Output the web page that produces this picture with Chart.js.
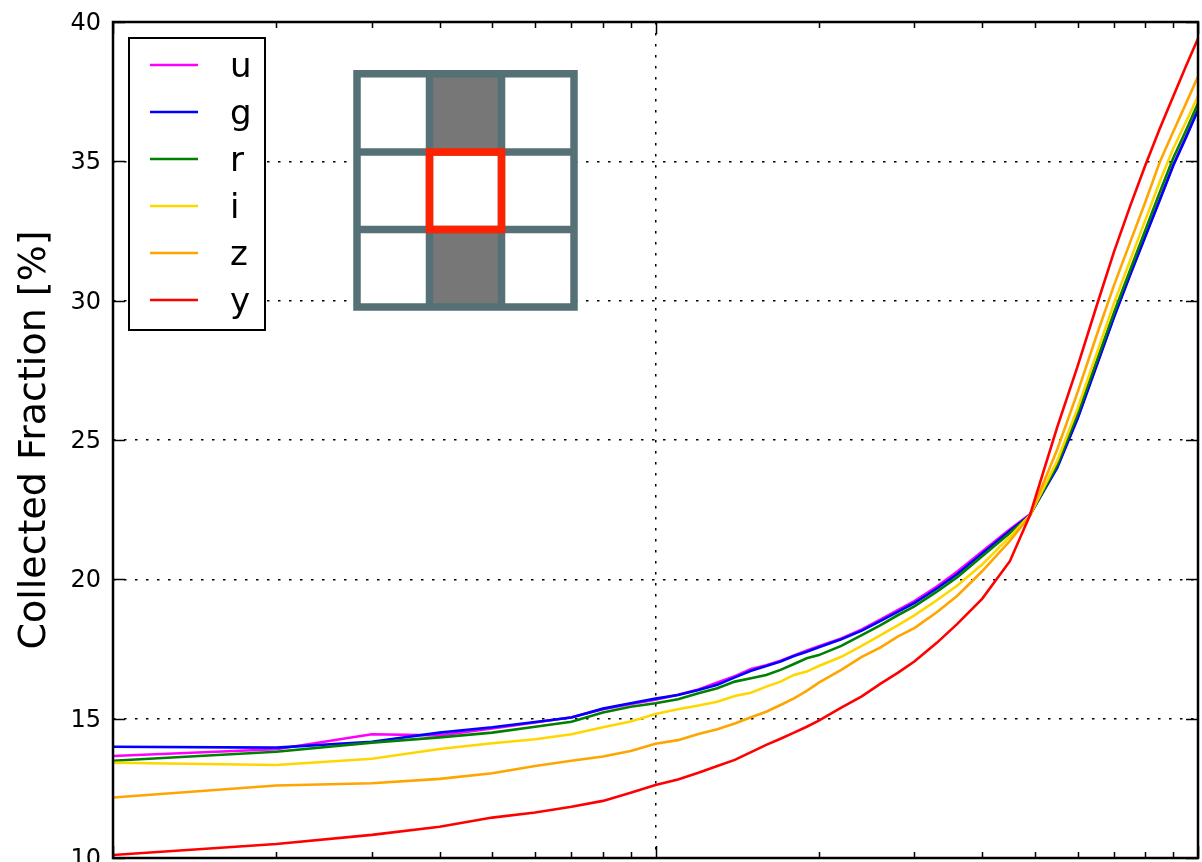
<!DOCTYPE html>
<html>
<head>
<meta charset="utf-8">
<script src="https://cdn.jsdelivr.net/npm/chart.js@4/dist/chart.umd.min.js"></script>
<style>
  html, body { margin: 0; padding: 0; background: #ffffff; }
  canvas { display: block; }
</style>
</head>
<body>
<canvas id="chart" width="1202" height="862"></canvas>
<script>
// Sampling positions along the (logarithmic) horizontal axis
const xValues = [1, 2, 3, 4, 5, 6, 7, 8, 9, 10, 11, 12, 13, 14, 15, 16, 17, 18, 19, 20,
                 22, 24, 26, 28, 30, 33, 36, 40, 45, 49, 55, 60, 65, 70, 75, 80, 85, 90, 95, 100];

// Collected fraction [%] per filter band
const uFrac = [13.66, 13.90, 14.44, 14.40, 14.65, 14.86, 15.05, 15.34, 15.53, 15.68, 15.86, 16.05, 16.30, 16.52, 16.78, 16.92, 17.08, 17.27, 17.45, 17.60,
               17.88, 18.20, 18.56, 18.90, 19.22, 19.74, 20.28, 21.00, 21.80, 22.33, 24.03, 25.80, 27.68, 29.43, 30.96, 32.34, 33.63, 34.87, 35.88, 36.87];
const gFrac = [13.99, 13.96, 14.17, 14.50, 14.69, 14.88, 15.04, 15.36, 15.55, 15.72, 15.85, 16.03, 16.22, 16.48, 16.72, 16.89, 17.05, 17.25, 17.40, 17.56,
               17.85, 18.16, 18.51, 18.84, 19.15, 19.67, 20.19, 20.93, 21.74, 22.31, 24.00, 25.77, 27.65, 29.40, 30.93, 32.31, 33.60, 34.84, 35.85, 36.84];
const rFrac = [13.49, 13.81, 14.14, 14.33, 14.50, 14.71, 14.89, 15.22, 15.43, 15.55, 15.70, 15.91, 16.09, 16.33, 16.45, 16.57, 16.75, 16.96, 17.17, 17.28,
               17.61, 18.00, 18.36, 18.72, 19.03, 19.56, 20.08, 20.83, 21.66, 22.29, 24.10, 25.94, 27.82, 29.57, 31.11, 32.54, 33.88, 35.11, 36.10, 37.08];
const iFrac = [13.42, 13.34, 13.56, 13.91, 14.12, 14.26, 14.44, 14.69, 14.90, 15.17, 15.34, 15.47, 15.61, 15.81, 15.93, 16.15, 16.33, 16.57, 16.69, 16.89,
               17.22, 17.61, 18.00, 18.36, 18.71, 19.25, 19.78, 20.53, 21.53, 22.30, 24.25, 26.14, 28.09, 29.90, 31.45, 32.90, 34.27, 35.45, 36.41, 37.34];
const zFrac = [12.17, 12.60, 12.68, 12.84, 13.04, 13.30, 13.49, 13.64, 13.84, 14.10, 14.23, 14.45, 14.62, 14.83, 15.05, 15.25, 15.49, 15.73, 16.00, 16.29,
               16.75, 17.22, 17.56, 17.95, 18.25, 18.82, 19.41, 20.29, 21.38, 22.28, 24.65, 26.72, 28.74, 30.55, 32.10, 33.55, 34.97, 36.06, 37.07, 38.04];
const yFrac = [10.11, 10.50, 10.83, 11.12, 11.45, 11.63, 11.84, 12.05, 12.34, 12.62, 12.82, 13.06, 13.30, 13.52, 13.80, 14.06, 14.28, 14.50, 14.71, 14.93,
               15.40, 15.80, 16.26, 16.65, 17.05, 17.72, 18.40, 19.30, 20.65, 22.30, 25.45, 27.65, 29.80, 31.75, 33.40, 34.87, 36.17, 37.33, 38.41, 39.41];

const bandNames  = ['u', 'g', 'r', 'i', 'z', 'y'];
const bandSeries = [uFrac, gFrac, rFrac, iFrac, zFrac, yFrac];
const bandColors = ['#ff00ff', '#0000ff', '#008000', '#ffd700', '#ffa500', '#ff0000'];

const yTickValues = [10, 15, 20, 25, 30, 35, 40];
const yTickLabels = ['10', '15', '20', '25', '30', '35', '40'];
const yTitle = 'Collected Fraction [%]';

const FONT = "'DejaVu Sans', 'Liberation Sans', sans-serif";

const datasets = bandNames.map((name, k) => ({
  label: name,
  data: xValues.map((x, j) => ({ x: x, y: bandSeries[k][j] })),
  borderColor: bandColors[k],
  backgroundColor: bandColors[k],
  borderWidth: 2.6,
  pointRadius: 0,
  tension: 0,
  fill: false,
  // later bands are painted over earlier ones
  order: bandNames.length - k
}));

const isDecade = v => Math.abs(Math.log10(v) - Math.round(Math.log10(v))) < 1e-9;

// Frame, inward tick marks, tick labels, boxed legend and the pixel-mask sketch
const decorations = {
  id: 'decorations',
  afterDraw(chart) {
    const ctx = chart.ctx;
    const a = chart.chartArea;
    const xs = chart.scales.x;
    const ys = chart.scales.y;

    ctx.save();
    ctx.strokeStyle = '#000000';
    ctx.lineWidth = 1.5;
    // x ticks: decades long, intermediate values short (top and bottom)
    const xTickVals = [];
    for (let d = 1; d < 100; d *= 10) for (let m = 1; m < 10; m++) xTickVals.push(m * d);
    xTickVals.push(100);
    xTickVals.forEach(v => {
      const px = Math.round(xs.getPixelForValue(v)) + 0.5;
      const len = isDecade(v) ? 12 : 6;
      ctx.beginPath();
      ctx.moveTo(px, a.bottom); ctx.lineTo(px, a.bottom - len);
      ctx.moveTo(px, a.top); ctx.lineTo(px, a.top + len);
      ctx.stroke();
    });
    // y ticks on both sides, labels on the left
    ctx.font = '24px ' + FONT;
    ctx.fillStyle = '#000000';
    ctx.textAlign = 'right';
    ctx.textBaseline = 'middle';
    yTickValues.forEach((v, k) => {
      const py = Math.round(ys.getPixelForValue(v)) + 0.5;
      ctx.beginPath();
      ctx.moveTo(a.left, py); ctx.lineTo(a.left + 12, py);
      ctx.moveTo(a.right, py); ctx.lineTo(a.right - 12, py);
      ctx.stroke();
      ctx.fillText(yTickLabels[k], a.left - 12, py + 1);
    });
    // axes frame
    ctx.lineWidth = 2.5;
    ctx.strokeRect(a.left, a.top, a.right - a.left, a.bottom - a.top);

    // legend box
    const lx = a.left + 16, ly = a.top + 16, lw = 136, lh = 292;
    ctx.fillStyle = '#ffffff';
    ctx.fillRect(lx, ly, lw, lh);
    ctx.lineWidth = 2;
    ctx.strokeRect(lx, ly, lw, lh);
    ctx.font = '34px ' + FONT;
    ctx.textBaseline = 'middle';
    ctx.textAlign = 'left';
    chart.data.datasets.forEach((ds, k) => {
      const ry = ly + 27 + k * 47;
      ctx.strokeStyle = ds.borderColor;
      ctx.lineWidth = 2.6;
      ctx.beginPath();
      ctx.moveTo(lx + 21, ry); ctx.lineTo(lx + 69, ry);
      ctx.stroke();
      ctx.fillStyle = '#000000';
      ctx.fillText(ds.label, lx + 101, ry + 3);
    });

    // 3x3 pixel sketch: shaded column, highlighted centre pixel
    const gx = [357, 429.5, 501.5, 574];
    const gy = [73.7, 152, 229.5, 307];
    const gw = 7.5;
    ctx.fillStyle = '#ffffff';
    ctx.fillRect(gx[0], gy[0], gx[3] - gx[0], gy[3] - gy[0]);
    ctx.fillStyle = '#777777';
    ctx.fillRect(gx[1], gy[0], gx[2] - gx[1], gy[1] - gy[0]);
    ctx.fillRect(gx[1], gy[2], gx[2] - gx[1], gy[3] - gy[2]);
    ctx.strokeStyle = '#557176';
    ctx.lineWidth = gw;
    ctx.lineCap = 'square';
    ctx.beginPath();
    gx.forEach(x => { ctx.moveTo(x, gy[0]); ctx.lineTo(x, gy[3]); });
    gy.forEach(y => { ctx.moveTo(gx[0], y); ctx.lineTo(gx[3], y); });
    ctx.stroke();
    ctx.strokeStyle = '#ff2200';
    ctx.strokeRect(gx[1], gy[1], gx[2] - gx[1], gy[2] - gy[1]);
    ctx.restore();
  }
};

new Chart(document.getElementById('chart'), {
  type: 'line',
  data: { datasets: datasets },
  options: {
    responsive: false,
    animation: false,
    devicePixelRatio: 1,
    layout: { padding: { top: 22, right: 4, left: 0, bottom: 0 } },
    plugins: { legend: { display: false }, tooltip: { enabled: false } },
    scales: {
      x: {
        type: 'logarithmic',
        min: 1,
        max: 100,
        ticks: { display: false },
        grid: {
          drawTicks: false,
          lineWidth: 1.5,
          color: c => (c.tick && isDecade(c.tick.value)) ? '#000000' : 'rgba(0,0,0,0)'
        },
        border: { display: false, dash: [2.5, 8.5] },
        afterFit: s => { s.height = 4; }
      },
      y: {
        type: 'linear',
        min: 10,
        max: 40,
        ticks: { display: false, stepSize: 5 },
        afterBuildTicks: s => { s.ticks = yTickValues.map(v => ({ value: v })); },
        grid: { drawTicks: false, lineWidth: 1.5, color: '#000000' },
        border: { display: false, dash: [2.5, 8.5] },
        title: {
          display: true,
          text: yTitle,
          color: '#000000',
          font: { family: FONT, size: 38 },
          padding: { top: 12, bottom: 0 }
        },
        afterFit: s => { s.width = 113; }
      }
    }
  },
  plugins: [decorations]
});
</script>
</body>
</html>
